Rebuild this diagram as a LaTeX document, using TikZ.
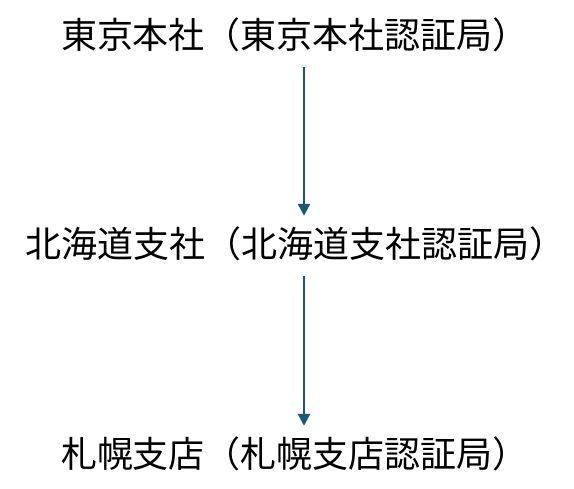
\documentclass[tikz,border=0pt]{standalone}
\usepackage{fontspec}
\newfontfamily\cjk{Noto Sans CJK JP}
\usetikzlibrary{arrows.meta}
\definecolor{arrowblue}{RGB}{26,88,118}
\newcommand{\lp}{\makebox[1em][r]{（}}
\newcommand{\rp}{\makebox[1em][c]{）}}
\tikzset{
  label/.style={font=\cjk\fontsize{36pt}{40pt}\selectfont, inner sep=0pt, text height=30pt, text depth=6pt},
  arr/.style={draw=arrowblue, line width=2.4pt, -{Triangle[width=12pt,length=12pt]}, arrowblue}
}
\begin{document}
\begin{tikzpicture}[x=1pt,y=1pt]
\useasboundingbox (0,0) rectangle (574,489);
\node[label] (a) at (295,452) {東京本社\lp 東京本社認証局\rp};
\node[label] (b) at (296,243) {北海道支社\lp 北海道支社認証局\rp};
\node[label] (c) at (295,33) {札幌支店\lp 札幌支店認証局\rp};
\coordinate (x) at (304,0);
\draw[arr] ([yshift=-12pt]a.south -| x) -- ([yshift=12pt]b.north -| x);
\draw[arr] ([yshift=-12pt]b.south -| x) -- ([yshift=12pt]c.north -| x);
\end{tikzpicture}
\end{document}
